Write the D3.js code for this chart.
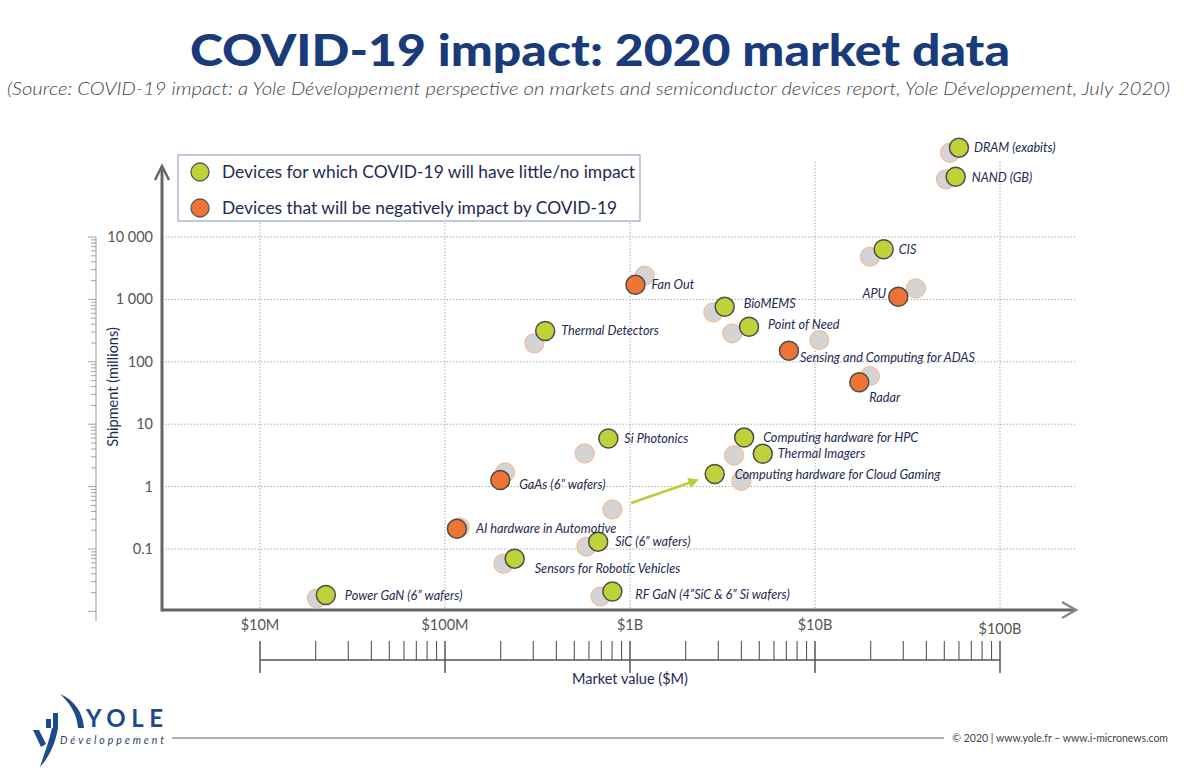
<!DOCTYPE html>
<html>
<head>
<meta charset="utf-8">
<script src="https://cdn.jsdelivr.net/npm/d3@7"></script>
<style>
  body { margin: 0; background: #fff; }
  svg { display: block; font-family: Lato, "Open Sans", sans-serif; }
</style>
</head>
<body>
<svg></svg>
<script>
const NAVY = '#1e2a55';
const TITLE_BLUE = '#1a3b7a';
const GREEN = '#bfd23a';
const ORANGE = '#ee7434';
const GREY_FILL = '#d4d4d4';
const GREY_EDGE = '#f1bf9f';

// devices, 2020 position (coloured) and previous position (grey)
const devices = [
  "DRAM (exabits)", "NAND (GB)", "CIS", "APU", "Fan Out", "BioMEMS", "Point of Need",
  "Thermal Detectors", "Sensing and Computing for ADAS", "Radar", "Si Photonics",
  "Computing hardware for HPC", "Thermal Imagers", "Computing hardware for Cloud Gaming",
  "GaAs (6\u201D wafers)", "AI hardware in Automotive", "SiC (6\u201D wafers)",
  "Sensors for Robotic Vehicles", "Power GaN (6\u201D wafers)", "RF GaN (4\u201DSiC & 6\u201D Si wafers)"
];
const impact = [
  "low", "low", "low", "neg", "neg", "low", "low",
  "low", "neg", "neg", "low",
  "low", "low", "low",
  "neg", "neg", "low",
  "low", "low", "low"
];
// market value ($M)
const value2020 = [60000, 57600, 23500, 28200, 1070, 3250, 4400, 348, 7230, 17350, 764, 4140, 5220, 2870, 199, 116, 673, 238, 22.7, 803];
const valuePrev = [53700, 51000, 19800, 35100, 1200, 2820, 3570, 304, 10550, 19800, 569, 3650, 4000, 803, 211, 120, 581, 207, 20.3, 693];
// shipment (millions)
const shipment2020 = [270000, 92500, 6350, 1100, 1720, 760, 365, 312, 151, 47, 5.9, 6.1, 3.36, 1.59, 1.27, 0.211, 0.131, 0.070, 0.0183, 0.0208];
const shipmentPrev = [224000, 84000, 4830, 1500, 2400, 620, 286, 198, 223, 59, 3.4, 3.15, 1.24, 0.43, 1.69, 0.222, 0.109, 0.058, 0.0162, 0.0174];
const arrowFor = ["Computing hardware for Cloud Gaming"];

const yTicks = [0.1, 1, 10, 100, 1000, 10000];
const yTickLabels = ["0.1", "1", "10", "100", "1 000", "10 000"];
const xTicks = [10, 100, 1000, 10000, 100000];
const xTickLabels = ["$10M", "$100M", "$1B", "$10B", "$100B"];
const legendItems = [
  { type: "low", text: "Devices for which COVID-19 will have little/no impact" },
  { type: "neg", text: "Devices that will be negatively impact by COVID-19" }
];

// label placement around each marker (layout only)
const labelPlace = {
  "DRAM (exabits)": [15, 0, "start"],
  "NAND (GB)": [16, 1, "start"],
  "CIS": [15, 0, "start"],
  "APU": [-12, -3, "end"],
  "Fan Out": [16, 0, "start"],
  "BioMEMS": [19, -3, "start"],
  "Point of Need": [19, -2, "start"],
  "Thermal Detectors": [16, 0, "start"],
  "Sensing and Computing for ADAS": [11, 7, "start"],
  "Radar": [10, 15, "start"],
  "Si Photonics": [16, 0, "start"],
  "Computing hardware for HPC": [19, 0, "start"],
  "Thermal Imagers": [15, 0, "start"],
  "Computing hardware for Cloud Gaming": [20, 1, "start"],
  "GaAs (6\u201D wafers)": [19, 4, "start"],
  "AI hardware in Automotive": [19, 0, "start"],
  "SiC (6\u201D wafers)": [17, 0, "start"],
  "Sensors for Robotic Vehicles": [20, 10, "start"],
  "Power GaN (6\u201D wafers)": [19, 1, "start"],
  "RF GaN (4\u201DSiC & 6\u201D Si wafers)": [23, 3, "start"]
};

const width = 1200;
const height = 775;
const R = 9.5;

const svg = d3.select("svg")
  .attr("width", width)
  .attr("height", height);

const x = d3.scaleLog().domain([10, 100000]).range([260, 1000]);
const y = d3.scaleLog().domain([0.1, 10000]).range([549, 237]);

const axisX0 = 162, axisY0 = 610;

// title + source line
svg.append("text")
  .attr("x", 190).attr("y", 66)
  .attr("textLength", 820).attr("lengthAdjust", "spacingAndGlyphs")
  .attr("font-size", 43).attr("font-weight", 900)
  .attr("fill", TITLE_BLUE)
  .text("COVID-19 impact: 2020 market data");

svg.append("text")
  .attr("x", 7).attr("y", 95)
  .attr("textLength", 1163).attr("lengthAdjust", "spacingAndGlyphs")
  .attr("font-size", 17.5).attr("font-style", "italic").attr("font-weight", 300)
  .attr("fill", "#444")
  .text("(Source: COVID-19 impact: a Yole D\u00e9veloppement perspective on markets and semiconductor devices report, Yole D\u00e9veloppement, July 2020)");

// grid
svg.selectAll(".hgrid")
  .data(yTicks)
  .enter().append("line")
  .attr("x1", axisX0).attr("x2", 1075)
  .attr("y1", d => y(d)).attr("y2", d => y(d))
  .attr("stroke", "#9a9a9a").attr("stroke-width", 1)
  .attr("stroke-dasharray", "1.2,2");

svg.selectAll(".vgrid")
  .data(xTicks)
  .enter().append("line")
  .attr("x1", d => x(d)).attr("x2", d => x(d))
  .attr("y1", 162).attr("y2", axisY0)
  .attr("stroke", "#9a9a9a").attr("stroke-width", 1)
  .attr("stroke-dasharray", "1.2,2");

// y tick labels
svg.selectAll(".ylab")
  .data(yTicks)
  .enter().append("text")
  .attr("x", 153).attr("y", d => y(d))
  .attr("dy", "0.35em")
  .attr("text-anchor", "end")
  .attr("font-size", 14.5).attr("fill", "#555")
  .text((d, i) => yTickLabels[i]);

// x tick labels
svg.selectAll(".xlab")
  .data(xTicks)
  .enter().append("text")
  .attr("x", d => x(d)).attr("y", (d, i) => i === xTicks.length - 1 ? 634 : 630)
  .attr("text-anchor", "middle")
  .attr("font-size", 14.5).attr("fill", "#555")
  .text((d, i) => xTickLabels[i]);

// left log ruler
const rulerTicks = [];
for (let e = -2; e < 4; e++) {
  for (let m = 1; m < 10; m++) rulerTicks.push({ v: m * Math.pow(10, e), major: m === 1 });
}
rulerTicks.push({ v: 10000, major: true });
svg.append("line")
  .attr("x1", 96).attr("x2", 96)
  .attr("y1", 237).attr("y2", 621)
  .attr("stroke", "#999").attr("stroke-width", 1);
svg.selectAll(".rtick")
  .data(rulerTicks)
  .enter().append("line")
  .attr("x1", d => d.major ? 88 : 91).attr("x2", 96)
  .attr("y1", d => y(d.v)).attr("y2", d => y(d.v))
  .attr("stroke", "#999").attr("stroke-width", 0.9);

svg.append("text")
  .attr("transform", "translate(118,387) rotate(-90)")
  .attr("text-anchor", "middle")
  .attr("font-size", 14.5).attr("fill", NAVY)
  .text("Shipment (millions)");

// bottom log ruler
const bottomTicks = [];
for (let e = 1; e < 5; e++) {
  for (let m = 1; m < 10; m++) bottomTicks.push({ v: m * Math.pow(10, e), major: m === 1 });
}
bottomTicks.push({ v: 100000, major: true });
svg.append("line")
  .attr("x1", x(10)).attr("x2", x(100000))
  .attr("y1", 660).attr("y2", 660)
  .attr("stroke", "#555").attr("stroke-width", 1.5);
svg.selectAll(".btick")
  .data(bottomTicks)
  .enter().append("line")
  .attr("x1", d => x(d.v)).attr("x2", d => x(d.v))
  .attr("y1", 641).attr("y2", d => d.major ? 673 : 660)
  .attr("stroke", "#555").attr("stroke-width", d => d.major ? 1.5 : 1.1);

svg.append("text")
  .attr("x", 630).attr("y", 684)
  .attr("text-anchor", "middle")
  .attr("font-size", 14.5).attr("fill", NAVY)
  .text("Market value ($M)");

// axes with arrows
svg.append("line")
  .attr("x1", axisX0).attr("x2", axisX0)
  .attr("y1", axisY0 + 1.5).attr("y2", 167)
  .attr("stroke", "#666").attr("stroke-width", 3);
svg.append("path")
  .attr("d", `M${axisX0 - 7},${180} L${axisX0},${166} L${axisX0 + 7},${180}`)
  .attr("fill", "none").attr("stroke", "#666").attr("stroke-width", 2.5);
svg.append("line")
  .attr("x1", axisX0).attr("x2", 1074)
  .attr("y1", axisY0).attr("y2", axisY0)
  .attr("stroke", "#666").attr("stroke-width", 3);
svg.append("path")
  .attr("d", `M1062,${axisY0 - 8} L1076,${axisY0} L1062,${axisY0 + 8}`)
  .attr("fill", "none").attr("stroke", "#888").attr("stroke-width", 2.5);

// legend
const legend = svg.append("g");
legend.append("rect")
  .attr("x", 178).attr("y", 155)
  .attr("width", 462).attr("height", 66)
  .attr("fill", "#fff").attr("stroke", "#9ba6c4").attr("stroke-width", 1.2);
legend.selectAll("circle")
  .data(legendItems)
  .enter().append("circle")
  .attr("cx", 200).attr("cy", (d, i) => 172 + i * 36)
  .attr("r", 9)
  .attr("fill", d => d.type === "low" ? GREEN : ORANGE)
  .attr("stroke", "#555").attr("stroke-width", 1.3);
legend.selectAll("text")
  .data(legendItems)
  .enter().append("text")
  .attr("x", 222).attr("y", (d, i) => 172 + i * 36)
  .attr("dy", "0.35em")
  .attr("font-size", 17.4).attr("fill", NAVY)
  .text(d => d.text);

// points
const pts = devices.map((name, i) => ({
  name, type: impact[i],
  x: x(value2020[i]), y: y(shipment2020[i]),
  px: x(valuePrev[i]), py: y(shipmentPrev[i])
}));

svg.selectAll(".prev")
  .data(pts)
  .enter().append("circle")
  .attr("class", "prev")
  .attr("cx", d => d.px).attr("cy", d => d.py)
  .attr("r", R)
  .attr("fill", GREY_FILL).attr("stroke", GREY_EDGE).attr("stroke-width", 1.3);

// movement arrow
svg.append("defs").append("marker")
  .attr("id", "head")
  .attr("viewBox", "0 0 10 10").attr("refX", 8).attr("refY", 5)
  .attr("markerWidth", 4).attr("markerHeight", 4)
  .attr("orient", "auto")
  .append("path").attr("d", "M0,0 L10,5 L0,10 Z").attr("fill", "#b6d03c");

pts.filter(d => arrowFor.includes(d.name)).forEach(d => {
  const dx = d.x - d.px, dy = d.y - d.py;
  const len = Math.sqrt(dx * dx + dy * dy);
  const ux = dx / len, uy = dy / len;
  svg.append("line")
    .attr("x1", d.px + ux * 20).attr("y1", d.py + uy * 20)
    .attr("x2", d.x - ux * 19).attr("y2", d.y - uy * 19)
    .attr("stroke", "#b6d03c").attr("stroke-width", 2.6)
    .attr("marker-end", "url(#head)");
});

svg.selectAll(".now")
  .data(pts)
  .enter().append("circle")
  .attr("class", "now")
  .attr("cx", d => d.x).attr("cy", d => d.y)
  .attr("r", R)
  .attr("fill", d => d.type === "low" ? GREEN : ORANGE)
  .attr("stroke", "#4d4d4d").attr("stroke-width", 1.5);

svg.selectAll(".label")
  .data(pts)
  .enter().append("text")
  .attr("class", "label")
  .attr("x", d => d.x + labelPlace[d.name][0])
  .attr("y", d => d.y + labelPlace[d.name][1])
  .attr("dy", "0.35em")
  .attr("text-anchor", d => labelPlace[d.name][2])
  .attr("font-size", 12.7).attr("font-style", "italic")
  .attr("fill", NAVY)
  .text(d => d.name);

// footer
svg.append("line")
  .attr("x1", 172).attr("x2", 944)
  .attr("y1", 738).attr("y2", 738)
  .attr("stroke", "#666").attr("stroke-width", 1.2);
svg.append("text")
  .attr("x", 1168).attr("y", 742)
  .attr("text-anchor", "end")
  .attr("font-size", 10.5).attr("fill", "#444")
  .text("\u00a9 2020 | www.yole.fr \u2013 www.i-micronews.com");

// logo
const logo = svg.append("g").attr("fill", "#1c4a8a");
logo.append("path").attr("d", "M33,730 L39,730 L46,744 L41,747 Z");
logo.append("path").attr("d", "M52,728 L58,728 C55,745 49,757 40,767 C44,754 49,742 52,728 Z");
logo.append("rect").attr("x", 46).attr("y", 719).attr("width", 5).attr("height", 9);
logo.append("rect").attr("x", 53).attr("y", 713).attr("width", 5).attr("height", 15);
logo.append("path").attr("d", "M60,694 C74,700 83,712 84,728 L78,728 C77,714 70,703 60,694 Z");
logo.append("text")
  .attr("x", 86).attr("y", 727)
  .attr("textLength", 77).attr("lengthAdjust", "spacing")
  .attr("font-size", 24).attr("font-weight", 700)
  .text("YOLE");
logo.append("text")
  .attr("x", 60).attr("y", 744)
  .attr("textLength", 104).attr("lengthAdjust", "spacing")
  .attr("font-size", 10.5).attr("font-style", "italic")
  .attr("fill", "#2a3f6a")
  .text("D\u00e9veloppement");
</script>
</body>
</html>
